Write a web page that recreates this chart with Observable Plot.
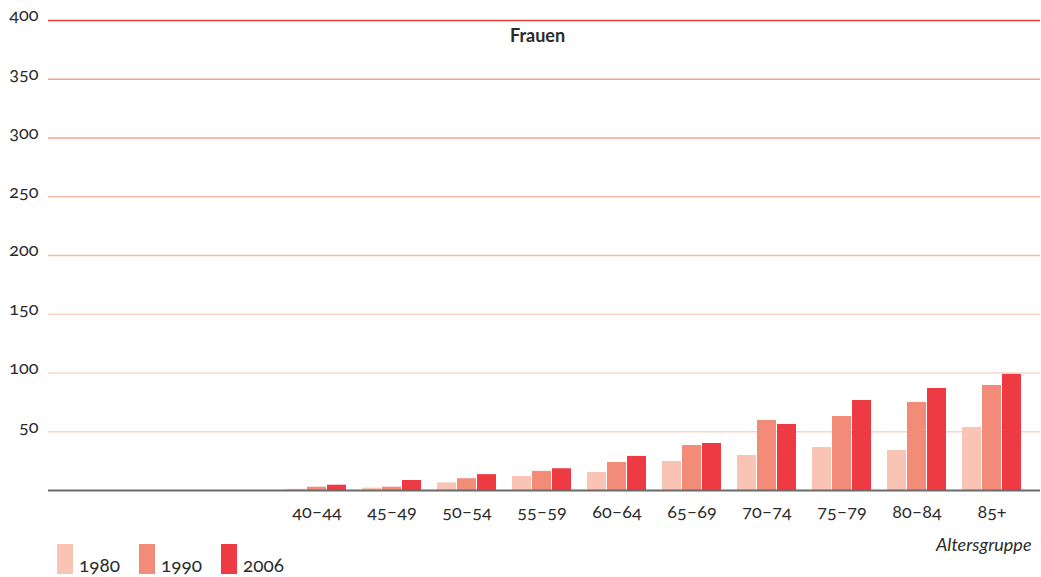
<!DOCTYPE html>
<html>
<head>
<meta charset="utf-8">
<script src="https://cdn.jsdelivr.net/npm/d3@7"></script>
<script src="https://cdn.jsdelivr.net/npm/@observablehq/plot@0.6"></script>
<style>
  body { margin: 0; background: #fff; font-family: Lato, "Open Sans", sans-serif; }
  #chart svg { overflow: visible; }
  #legend { padding-left: 57px; margin-top: -12px; position: relative; }
  .lg-swatches { margin: 0 !important; min-height: 0 !important; }
  .lg-swatch { margin-right: 19px !important; }
  .lg-swatch > svg { margin-right: 6px !important; margin-bottom: 10px; }
</style>
</head>
<body>
<div id="chart"></div>
<div id="legend"></div>
<script>
// Age groups on the x axis (the first three carry no values in this panel)
const ageGroups = ["25–29", "30–34", "35–39", "40–44", "45–49", "50–54", "55–59",
                   "60–64", "65–69", "70–74", "75–79", "80–84", "85+"];
// Groups that carry bars and labels
const shownGroups = ["40–44", "45–49", "50–54", "55–59", "60–64",
                     "65–69", "70–74", "75–79", "80–84", "85+"];
const years = ["1980", "1990", "2006"];
// Values per year, aligned with shownGroups
const values1980 = [1, 2, 6.5, 12, 15.3, 24.7, 29.8, 36.6, 34, 53.6];
const values1990 = [2.8, 2.8, 10, 16.3, 23.8, 38.3, 59.6, 63, 74.9, 89.4];
const values2006 = [4.5, 8.5, 13.5, 18.5, 29, 40, 56.2, 76.6, 86.8, 98.8];
const yTicks = [50, 100, 150, 200, 250, 300, 350, 400];
const panelTitle = "Frauen";
const xTitle = "Altersgruppe";

const yearColors = ["#f9c4b3", "#f28b78", "#ee3a42"];

const rows = (vals, year) => shownGroups.map((g, i) => ({group: g, year, value: vals[i]}));
const data1980 = rows(values1980, "1980");
const data1990 = rows(values1990, "1990");
const data2006 = rows(values2006, "2006");

const gridColor = d => d === 400 ? "#ee3a42" : d >= 300 ? "#f4a193" : d >= 200 ? "#f8b8a9" : "#fbd4c9";

const textColor = "#2b2b2b";
const fontFamily = "Lato, 'Open Sans', sans-serif";

const chart = Plot.plot({
  width: 1041,
  height: 556,
  marginLeft: 42,
  marginRight: 1,
  marginTop: 20,
  marginBottom: 66,
  style: {fontFamily, fontSize: "18px", fontVariantNumeric: "oldstyle-nums", color: textColor, background: "#fff"},
  x: {domain: ageGroups, padding: 0.2185, axis: null},
  y: {domain: [0, 400], axis: null},
  marks: [
    Plot.ruleY(yTicks, {y: d => d, stroke: gridColor, strokeWidth: 1.3, insetLeft: 6}),
    Plot.barY(data1980, {x: "group", y: "value", fill: yearColors[0], insetLeft: 0, insetRight: 40}),
    Plot.barY(data1990, {x: "group", y: "value", fill: yearColors[1], insetLeft: 20, insetRight: 20}),
    Plot.barY(data2006, {x: "group", y: "value", fill: yearColors[2], insetLeft: 40, insetRight: 0}),
    Plot.ruleY([0], {stroke: "#6a6a6a", strokeWidth: 2, insetLeft: 6}),
    // y tick labels sit just above their gridlines
    Plot.text(yTicks, {y: d => d, text: d => String(d), frameAnchor: "left", textAnchor: "end",
      dx: -4, dy: -5, fontSize: 18, fill: textColor}),
    // age group labels under the baseline
    Plot.text(shownGroups, {x: d => d, text: d => d, frameAnchor: "bottom", lineAnchor: "middle", dy: 22,
      fontSize: 18, fill: textColor}),
    Plot.text([panelTitle], {frameAnchor: "top", lineAnchor: "middle", dx: -4, dy: 16, fontWeight: "bold", fontSize: 18, fill: textColor}),
    Plot.text([xTitle], {frameAnchor: "bottom-right", lineAnchor: "middle", textAnchor: "end", dx: -9, dy: 55,
      fontStyle: "italic", fontSize: 18, fill: textColor})
  ]
});
document.getElementById("chart").append(chart);

const legend = Plot.legend({
  color: {domain: years, range: yearColors, type: "ordinal"},
  legend: "swatches",
  swatchWidth: 16,
  swatchHeight: 30,
  className: "lg",
  style: {fontFamily, fontSize: "19px", fontVariantNumeric: "oldstyle-nums", color: textColor}
});
document.getElementById("legend").append(legend);
</script>
</body>
</html>
